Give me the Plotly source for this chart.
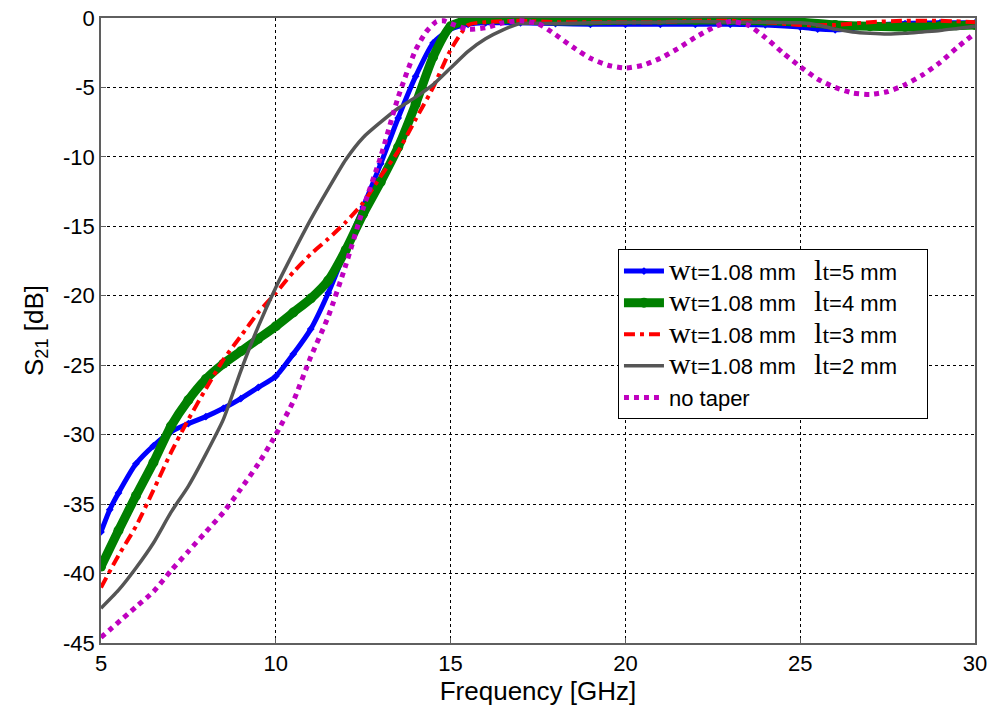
import plotly.graph_objects as go

# ---------------- data ----------------
f_l5 = [5, 5.25, 5.5, 6, 6.5, 7, 7.5, 8, 8.5, 9, 9.5, 10, 10.5, 11, 11.5, 12, 12.5, 13, 13.5, 14, 14.5,
        15, 15.5, 16, 17, 18, 19, 20, 21, 22, 23, 24, 25, 25.5, 26, 26.5, 27, 28, 29, 30]
s21_l5 = [-37.0, -35.4, -34.2, -32.1, -30.8, -29.8, -29.2, -28.7, -28.1, -27.4, -26.6, -25.8, -24.2, -22.4,
          -19.8, -16.7, -13.6, -10.5, -7.2, -4.2, -1.8, -0.8, -0.45, -0.35, -0.35, -0.4, -0.45, -0.45, -0.45,
          -0.45, -0.45, -0.5, -0.65, -0.8, -0.85, -0.75, -0.55, -0.4, -0.35, -0.35]

f_l4 = [5, 5.5, 6, 6.5, 7, 7.5, 8, 8.5, 9, 9.5, 10, 10.5, 11, 11.5, 12, 12.5, 13, 13.5, 14, 14.5, 15,
        15.5, 16, 17, 18, 19, 20, 21, 22, 23, 24, 25, 26, 27, 28, 29, 30]
s21_l4 = [-39.5, -36.9, -34.4, -32.0, -29.4, -27.5, -26.0, -24.9, -24.0, -23.1, -22.2, -21.2, -20.2, -18.9,
          -16.7, -14.1, -11.8, -9.3, -6.2, -2.8, -0.6, -0.15, -0.1, -0.1, -0.2, -0.2, -0.15, -0.15, -0.15,
          -0.15, -0.2, -0.3, -0.5, -0.6, -0.65, -0.6, -0.5]

f_l3 = [5, 5.5, 6, 6.5, 7, 7.5, 8, 8.5, 9, 9.5, 10, 10.5, 11, 11.5, 12, 12.5, 13, 13.5, 14, 14.5, 15,
        15.5, 16, 17, 18, 19, 20, 21, 22, 23, 24, 25, 26, 27, 28, 29, 30]
s21_l3 = [-41.0, -38.7, -36.6, -34.0, -31.3, -28.9, -26.7, -24.6, -22.9, -21.2, -19.8, -18.3, -17.0, -15.9,
          -14.7, -13.3, -11.4, -9.6, -7.3, -5.0, -2.3, -0.5, -0.3, -0.2, -0.3, -0.3, -0.3, -0.3, -0.2,
          -0.2, -0.3, -0.5, -0.5, -0.3, -0.2, -0.2, -0.3]

f_l2 = [5, 5.5, 6, 6.5, 7, 7.5, 8, 8.5, 9, 9.5, 10, 10.5, 11, 11.5, 12, 12.5, 13, 13.5, 14, 14.5, 15,
        15.5, 16, 16.5, 17, 18, 19, 20, 21, 22, 23, 24, 25, 25.5, 26, 26.5, 27, 27.5, 28, 28.5, 29,
        29.5, 30]
s21_l2 = [-42.5, -41.2, -39.6, -37.8, -35.6, -33.7, -31.4, -28.9, -25.4, -22.2, -19.4, -16.9, -14.5, -12.3,
          -10.2, -8.6, -7.5, -6.5, -5.7, -4.8, -3.6, -2.4, -1.5, -0.85, -0.4, -0.4, -0.35, -0.3, -0.3,
          -0.25, -0.3, -0.3, -0.35, -0.5, -0.8, -1.0, -1.1, -1.15, -1.1, -1.0, -0.9, -0.75, -0.6]

f_nt = [5, 6, 6.5, 7, 7.5, 8, 8.5, 9, 9.5, 10, 10.5, 11, 11.5, 12, 12.5, 13, 13.5, 14, 14.3, 14.6,
        14.8, 15.0, 15.5, 16, 16.5, 17, 17.5, 18, 18.5, 19, 19.5, 20, 20.5, 21, 21.5, 22, 22.5, 23,
        23.5, 24, 24.5, 25, 25.5, 26, 26.5, 27, 27.5, 28, 28.5, 29, 29.5, 30]
s21_nt = [-44.6, -42.4, -41.3, -39.8, -38.4, -37.0, -35.6, -33.9, -32.1, -30.0, -27.6, -24.4, -21.5, -17.8,
          -13.7, -10.0, -5.7, -2.3, -1.0, -0.25, -0.2, -0.4, -0.8, -0.7, -0.35, -0.2, -0.4, -1.2, -2.1,
          -2.9, -3.4, -3.6, -3.4, -2.9, -2.2, -1.4, -0.7, -0.25, -0.5, -1.4, -2.5, -3.5, -4.4, -5.0,
          -5.4, -5.5, -5.3, -4.8, -4.1, -3.2, -2.1, -1.1]

x_ticks = [5, 10, 15, 20, 25, 30]
y_ticks = [0, -5, -10, -15, -20, -25, -30, -35, -40, -45]
y_ticktext = ["0", "-5", "-10", "-15", "-20", "-25", "-30", "-35", "-40", "-45"]

SANS = "Liberation Sans, Arial, sans-serif"
SERIF = "Liberation Serif, Times New Roman, serif"
NB = "\u00a0"


def lt_name(lt):
    return (f"<span style='font-family:{SERIF};font-size:30px'>w</span>"
            f"<span style='font-family:{SERIF};font-size:24px'>t</span>=1.08 mm{NB * 3}"
            f"<span style='font-family:{SERIF};font-size:30px'>l</span>"
            f"<span style='font-family:{SERIF};font-size:24px'>t</span>={lt} mm{NB * 4}")


names = [lt_name(5), lt_name(4), lt_name(3), lt_name(2), "no taper"]

fig = go.Figure()
fig.add_trace(go.Scatter(x=f_l5, y=s21_l5, name=names[0], mode="lines+markers",
                         line=dict(color="#0000FF", width=5, shape="spline", smoothing=0.6),
                         marker=dict(symbol="diamond", size=6, color="#0000FF")))
fig.add_trace(go.Scatter(x=f_l4, y=s21_l4, name=names[1], mode="lines+markers",
                         line=dict(color="#008000", width=9, shape="spline", smoothing=0.6),
                         marker=dict(symbol="circle", size=10, color="#008000")))
fig.add_trace(go.Scatter(x=f_l3, y=s21_l3, name=names[2], mode="lines",
                         line=dict(color="#FF0000", width=4, dash="11px,5px,4px,5px",
                                   shape="spline", smoothing=0.6)))
fig.add_trace(go.Scatter(x=f_l2, y=s21_l2, name=names[3], mode="lines",
                         line=dict(color="#555555", width=3.5, shape="spline", smoothing=0.6)))
fig.add_trace(go.Scatter(x=f_nt, y=s21_nt, name=names[4], mode="lines",
                         line=dict(color="#BF00BF", width=5, dash="dot", shape="spline", smoothing=0.6)))

axis_common = dict(
    showline=True, linecolor="#5f5f5f", linewidth=1.5, mirror=True,
    showgrid=True, gridcolor="#000000", gridwidth=1, griddash="3px,3px",
    zeroline=False, ticks="inside", ticklen=5, tickcolor="#5f5f5f",
    tickfont=dict(family=SANS, size=22, color="#000000"),
)

fig.update_xaxes(range=[5, 30], tickvals=x_ticks, ticktext=[str(v) for v in x_ticks],
                 title=dict(text="Frequency [GHz]", standoff=2,
                            font=dict(family=SANS, size=26, color="#000")),
                 **axis_common)
fig.update_yaxes(range=[-45, 0], tickvals=y_ticks, ticktext=y_ticktext,
                 title=dict(text="S<sub>21</sub> [dB]", standoff=12,
                            font=dict(family=SANS, size=26, color="#000")),
                 **axis_common)

fig.update_layout(
    width=990, height=706,
    margin=dict(l=101, r=15, t=18, b=63, autoexpand=False),
    paper_bgcolor="white", plot_bgcolor="white",
    font=dict(family=SANS, size=22, color="#000"),
    legend=dict(x=0.5915, y=0.630, xanchor="left", yanchor="top",
                bgcolor="white", bordercolor="#000000", borderwidth=1,
                font=dict(family=SANS, size=22, color="#000"), tracegroupgap=0, itemwidth=40),
    showlegend=True,
)

fig.write_html("out.html")
